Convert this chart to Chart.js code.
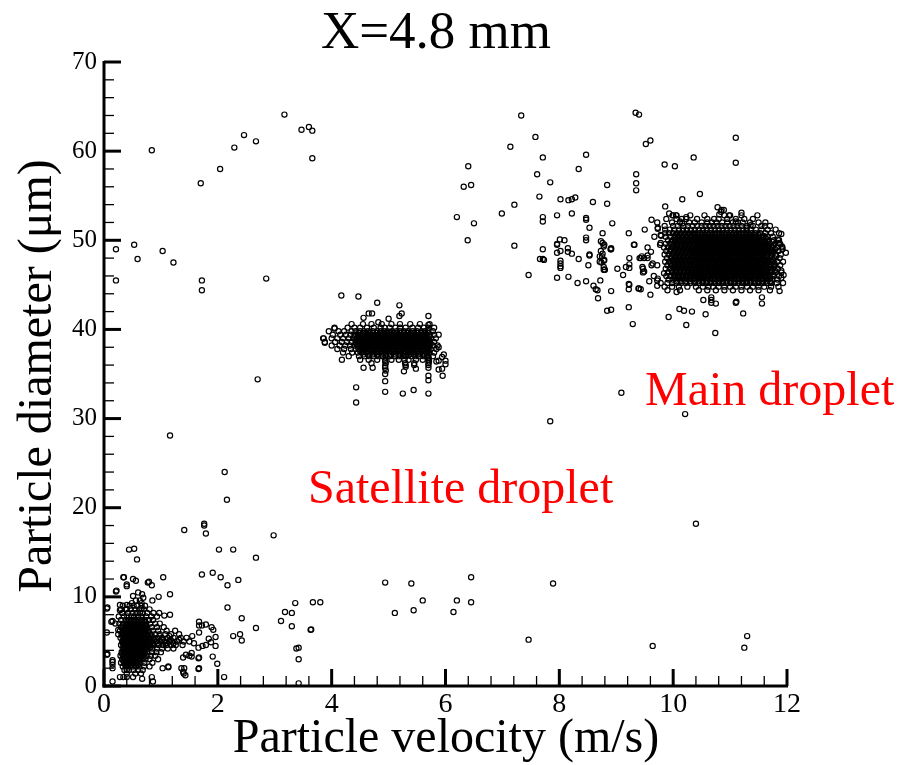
<!DOCTYPE html>
<html><head><meta charset="utf-8">
<script src="https://cdn.jsdelivr.net/npm/chart.js@4.4.1/dist/chart.umd.min.js"></script>
<style>html,body{margin:0;padding:0;background:#fff}#wrap{width:915px;height:765px}</style>
</head><body><div id="wrap"><canvas id="c" width="915" height="765"></canvas></div>
<script>
const titleText = "X=4.8 mm";
const xAxisTitle = "Particle velocity (m/s)";
const yAxisTitle = "Particle diameter (μm)";
const noteMain = "Main droplet";
const noteSatellite = "Satellite droplet";
const xTickValues = [0, 2, 4, 6, 8, 10, 12];
const yTickValues = [0, 10, 20, 30, 40, 50, 60, 70];

// scattered points (velocity m/s, diameter µm)
const scatteredUpper = [
[0.84,60.1],[1.70,56.4],[2.04,58.0],[2.29,60.4],[2.46,61.8],[2.67,61.1],[3.17,64.1],[3.47,62.4],[3.60,62.7],[3.66,62.3],[3.66,59.2],
[0.21,49.0],[0.53,49.5],[0.59,47.9],[1.03,48.8],[1.22,47.5],[0.21,45.5],[1.72,45.5],[1.72,44.4],[2.85,45.7],
[2.70,34.4],[1.16,28.1],[2.12,24.0],[2.16,20.9],[1.41,17.5],[1.76,18.2],[1.76,18.0],[1.79,17.1],[0.44,15.3],[0.53,15.4],[0.58,14.2],
[2.02,15.3],[2.27,15.3],[2.67,14.4],[2.98,16.9],
[6.40,58.3],[6.32,56.0],[6.45,56.2],[6.20,52.6],[6.50,51.9],[6.39,50.0],
[10.40,18.2],[10.21,30.5],[7.84,29.7],[9.09,32.9]
];
const scatteredLower = [
[1.72,12.5],[1.91,12.7],[2.05,12.2],[2.17,11.3],[2.36,11.9],[2.17,8.8],[2.42,7.6],[2.67,6.5],[2.27,5.6],[2.39,5.8],[2.42,5.1],
[2.11,1.0],[1.99,2.5],[1.91,3.3],
[3.36,9.3],[3.67,9.4],[3.80,9.4],[3.18,8.3],[3.30,8.2],[3.11,7.3],[3.30,6.7],[3.63,6.3],[3.64,6.35],[3.38,4.2],[3.42,4.3],[3.42,3.0],[3.42,0.3],
[4.94,11.6],[5.40,11.5],[5.11,8.2],[5.44,8.5],[5.60,9.6],[6.45,12.2],[6.20,9.6],[6.45,9.4],[6.14,8.3],[7.89,11.5],[7.46,5.2],
[9.64,4.5],[11.30,5.6],[11.25,4.3]
];
const lowFringe = [
[0.05,8.7],[0.06,8.8],[0.15,7.3],[0.13,7.2],[0.20,7.0],[0.25,6.3],[0.25,5.8],[0.05,6.0],[0.05,3.5],[0.06,3.6],[0.15,2.9],[0.15,2.7],[0.15,2.4],[0.15,2.0],
[0.15,0.5],[0.28,1.0],[0.34,1.0],[0.40,1.0],[0.51,1.0],[0.67,0.8],[0.86,0.5],[0.84,1.0],[0.40,2.3],[0.40,1.8],
[0.34,12.2],[0.35,12.2],[0.40,11.4],[0.40,11.2],[0.51,12.0],[0.56,11.8],[0.77,11.6],[0.79,11.7],[0.84,11.3],[1.04,12.2],[0.21,10.6],[0.22,10.7],
[0.51,10.1],[0.60,10.5],[0.67,10.3],[0.69,9.9],[0.63,9.6],[0.96,10.0],[1.16,10.3],[0.85,9.6],[0.56,9.6],[0.49,9.3],[0.28,9.1],[0.28,8.5],
[0.40,9.1],[0.40,8.6],[0.66,9.3],[0.66,8.7],[1.16,8.0],[0.97,8.2],[0.87,8.2],[0.76,8.2],[1.06,7.9],[0.93,7.8],
[1.67,6.0],[1.67,6.8],[1.67,7.2],[1.72,6.8],[1.66,4.3],[1.67,3.2],[1.66,3.1],[1.67,2.0],[1.66,1.9],[1.39,3.2],[1.44,3.5],[1.54,3.3],[1.54,3.7],[1.50,3.4],
[1.36,2.0],[1.41,2.0],[1.39,1.6],[1.40,1.4],[1.43,1.2],[1.13,2.2],[1.13,2.1],[1.03,2.0],
[1.79,6.9],[1.89,6.6],[1.92,6.3],[1.84,5.3],[1.73,4.5],[1.79,4.6],[1.88,4.9],[1.96,5.5],[1.96,4.5],[1.55,5.6],[1.58,4.8]
];
// dense low-speed cluster, rows: [diameter, velocities]
const lowRows = [
[9.0,[0.33,0.45,0.52,0.58,0.66,0.72]],
[8.6,[0.30,0.38,0.47,0.55,0.62,0.70,0.80]],
[8.2,[0.32,0.42,0.50,0.57,0.63,0.68]],
[7.8,[0.26,0.35,0.41,0.48,0.53,0.60,0.66,0.74,0.83]],
[7.4,[0.30,0.38,0.44,0.50,0.55,0.61,0.67,0.72,0.79,0.86]],
[7.2,[0.41,0.47,0.53,0.59,0.65,0.71]],
[7.0,[0.27,0.34,0.40,0.45,0.51,0.56,0.62,0.68,0.74,0.81,0.90,0.98]],
[6.8,[0.33,0.39,0.44,0.50,0.55,0.61,0.67,0.73]],
[6.6,[0.30,0.36,0.42,0.47,0.53,0.58,0.64,0.70,0.76,0.84,0.93,1.05]],
[6.4,[0.36,0.42,0.47,0.53,0.58,0.63,0.69,0.75]],
[6.2,[0.28,0.33,0.39,0.44,0.50,0.55,0.60,0.66,0.72,0.78,0.86,0.95,1.10,1.25]],
[6.0,[0.34,0.39,0.44,0.50,0.55,0.61,0.66,0.72,0.79]],
[5.8,[0.31,0.36,0.41,0.47,0.52,0.58,0.63,0.69,0.75,0.82,0.90,0.98,1.08,1.18,1.32]],
[5.6,[0.32,0.38,0.43,0.49,0.54,0.59,0.65,0.70,0.77,0.84,0.98,1.15]],
[5.4,[0.29,0.35,0.40,0.46,0.51,0.56,0.62,0.67,0.73,0.80,0.87,0.94,1.02,1.12,1.22,1.35,1.45]],
[5.2,[0.35,0.40,0.46,0.51,0.57,0.62,0.68,0.74,0.80,0.88,1.02,1.17,1.32]],
[5.0,[0.32,0.37,0.43,0.48,0.54,0.59,0.65,0.70,0.77,0.84,0.91,0.99,1.06,1.14,1.20,1.28,1.40,1.50]],
[4.8,[0.33,0.38,0.44,0.49,0.55,0.60,0.66,0.71,0.78,0.86,0.94,1.08,1.22]],
[4.6,[0.30,0.35,0.41,0.46,0.52,0.57,0.63,0.68,0.74,0.81,0.88,0.96,1.04,1.10,1.18,1.26,1.38]],
[4.4,[0.36,0.41,0.47,0.52,0.58,0.63,0.69,0.75,0.82]],
[4.2,[0.33,0.38,0.44,0.49,0.55,0.60,0.66,0.71,0.78,0.85,0.93,1.02,1.12,1.22]],
[4.0,[0.34,0.39,0.45,0.50,0.56,0.61,0.67,0.73]],
[3.8,[0.31,0.36,0.42,0.47,0.53,0.58,0.64,0.70,0.76,0.84,0.92,1.00]],
[3.6,[0.32,0.37,0.43,0.48,0.54,0.59,0.65,0.71]],
[3.4,[0.29,0.34,0.40,0.45,0.51,0.56,0.62,0.68,0.75,0.82,0.90]],
[3.2,[0.35,0.41,0.46,0.52,0.57,0.63,0.69]],
[3.0,[0.32,0.38,0.43,0.49,0.54,0.60,0.66,0.73,0.80,0.95]],
[2.8,[0.34,0.39,0.45,0.50,0.56,0.62]],
[2.6,[0.30,0.36,0.41,0.47,0.52,0.58,0.64,0.71,0.85]],
[2.4,[0.37,0.43,0.48,0.54,0.60]],
[2.2,[0.33,0.39,0.45,0.50,0.56,0.62,0.70,0.80]],
[1.8,[0.36,0.44,0.52,0.60,0.68]],
[1.4,[0.40,0.55,0.65]]
];
const satelliteFringe = [
[4.17,43.8],[4.47,43.7],[4.80,43.0],[5.19,42.7],[5.23,41.8],[5.19,41.5],[5.70,41.5],[5.70,40.5],[4.65,41.8],[4.71,41.8],[4.56,41.3],[5.00,41.2],[4.82,40.8],
[3.85,39.0],[3.88,38.5],[4.05,40.1],[4.18,36.6],[4.56,35.7],[4.72,35.7],[4.94,35.7],[4.94,35.0],[4.94,34.2],[4.94,33.0],[4.43,33.5],[4.43,31.8],
[5.25,32.8],[5.44,33.2],[5.27,35.3],[5.70,34.8],[5.70,34.3],[5.70,32.8],[5.48,35.6],[5.88,38.0],[5.84,36.4],[5.88,36.5],[5.94,36.9],[6.00,36.1],
[5.94,35.6],[5.88,35.5],[5.95,34.8],[6.00,36.5],[5.97,37.2],
[4.94,36.4],[4.94,35.9],[4.95,35.4],[5.70,36.0],[5.70,35.7],[5.71,36.4],[5.70,36.8],[5.30,36.0],[5.30,35.8],[5.45,36.0]
];
const satelliteRows = [
[40.6,[4.35,4.55,4.70,4.88,5.05,5.20,5.38,5.55,5.72]],
[40.2,[4.05,4.28,4.40,4.50,4.62,4.74,4.86,4.93,5.02,5.12,5.20,5.30,5.42,5.52,5.62,5.70,5.80]],
[39.8,[3.95,4.12,4.22,4.35,4.42,4.50,4.57,4.64,4.72,4.80,4.86,4.92,4.98,5.06,5.14,5.20,5.27,5.34,5.42,5.50,5.58,5.64,5.70,5.78]],
[39.6,[4.47,4.55,4.61,4.67,4.73,4.79,4.85,4.91,4.96,5.03,5.09,5.15,5.21,5.27,5.33,5.39,5.45,5.51,5.57,5.63,5.69]],
[39.4,[4.02,4.15,4.25,4.33,4.40,4.46,4.52,4.58,4.64,4.70,4.76,4.82,4.88,4.94,5.00,5.06,5.12,5.18,5.24,5.30,5.36,5.42,5.48,5.54,5.60,5.66,5.72,5.80,5.88]],
[39.2,[4.41,4.47,4.53,4.59,4.65,4.71,4.77,4.83,4.89,4.95,5.00,5.06,5.12,5.18,5.24,5.30,5.36,5.42,5.48,5.54,5.60,5.66,5.72]],
[39.0,[3.86,4.00,4.10,4.20,4.30,4.38,4.44,4.50,4.56,4.62,4.68,4.74,4.80,4.86,4.92,4.97,5.03,5.09,5.15,5.21,5.27,5.33,5.39,5.45,5.51,5.57,5.63,5.69,5.75,5.83]],
[38.8,[4.45,4.51,4.57,4.63,4.69,4.75,4.81,4.87,4.93,4.98,5.04,5.10,5.16,5.22,5.28,5.34,5.40,5.46,5.52,5.58,5.64,5.70]],
[38.6,[3.88,4.06,4.18,4.27,4.35,4.42,4.48,4.54,4.60,4.66,4.72,4.78,4.84,4.90,4.95,5.01,5.07,5.13,5.19,5.25,5.31,5.37,5.43,5.49,5.55,5.61,5.67,5.72,5.80]],
[38.4,[4.43,4.49,4.55,4.61,4.67,4.73,4.79,4.85,4.91,4.96,5.02,5.08,5.14,5.20,5.26,5.32,5.38,5.44,5.50,5.56,5.62,5.68,5.74]],
[38.2,[4.00,4.14,4.24,4.32,4.40,4.46,4.52,4.58,4.64,4.70,4.76,4.82,4.88,4.94,4.99,5.05,5.11,5.17,5.23,5.29,5.35,5.41,5.47,5.53,5.59,5.65,5.71,5.78,5.86]],
[38.0,[4.46,4.52,4.58,4.64,4.70,4.76,4.82,4.88,4.94,4.99,5.05,5.11,5.17,5.23,5.29,5.35,5.41,5.47,5.53,5.59,5.65,5.71]],
[37.8,[4.10,4.22,4.34,4.42,4.49,4.55,4.61,4.67,4.73,4.79,4.85,4.91,4.96,5.02,5.08,5.14,5.20,5.26,5.32,5.38,5.44,5.50,5.56,5.62,5.68,5.74,5.84]],
[37.6,[4.50,4.57,4.63,4.69,4.75,4.81,4.87,4.93,4.98,5.04,5.10,5.16,5.22,5.28,5.34,5.40,5.46,5.52,5.58,5.64,5.70]],
[37.4,[4.20,4.36,4.46,4.53,4.60,4.66,4.72,4.78,4.84,4.90,4.95,5.01,5.07,5.13,5.19,5.25,5.31,5.37,5.43,5.49,5.55,5.61,5.67,5.72,5.80]],
[37.2,[4.56,4.64,4.72,4.80,4.88,4.95,5.04,5.12,5.20,5.28,5.36,5.44,5.52,5.60,5.68]],
[37.0,[4.30,4.48,4.58,4.66,4.74,4.82,4.90,4.95,5.02,5.10,5.18,5.25,5.31,5.40,5.47,5.55,5.62,5.70,5.78]],
[36.6,[4.50,4.65,4.80,4.94,5.05,5.18,5.28,5.35,5.48,5.60,5.70]],
[36.2,[4.70,4.95,5.29,5.45,5.70]]
];
const mainFringe = [
[7.33,64.0],[9.34,64.3],[9.40,64.1],[7.58,61.6],[7.14,60.5],[7.71,59.3],[8.47,59.6],[8.34,58.0],[7.61,57.4],[7.84,56.5],[11.10,61.5],[11.10,58.7],
[9.52,60.8],[9.60,61.2],[10.36,59.3],[9.85,58.5],[10.03,58.3],[9.35,57.4],[9.35,56.4],[9.35,55.6],[8.84,56.2],[8.84,54.1],[7.65,54.9],[7.21,54.0],
[6.99,53.0],[8.02,54.6],[8.16,54.5],[8.22,54.6],[8.28,54.8],[8.59,54.3],[7.71,52.6],[7.71,52.1],[7.96,52.8],[8.22,53.0],[8.47,52.5],[8.47,52.3],
[8.93,51.9],[8.53,51.4],[8.76,50.8],[9.22,50.8],[8.01,50.1],[8.09,50.0],[8.47,50.3],[8.47,50.0],[8.73,49.9],[7.21,49.4],[7.71,49.0],[7.96,49.6],
[7.96,49.5],[8.15,49.1],[8.15,48.7],[8.22,48.5],[8.02,48.8],[7.96,48.6],[8.79,49.5],[8.91,49.0],[8.76,48.5],[8.78,49.3],[8.73,48.8],[8.75,48.2],
[8.78,47.7],[8.74,47.5],[8.90,49.0],[9.31,49.5],[8.53,48.4],[8.53,48.3],[7.66,47.9],[7.71,47.9],[7.73,47.8],[8.02,47.7],[8.02,47.4],[8.02,47.1],
[8.02,46.9],[8.34,47.9],[8.71,48.2],[8.71,47.6],[8.78,47.0],[8.78,46.7],[8.80,46.7],[8.51,47.2],[9.02,46.8],[9.12,46.1],[9.17,47.0],[9.23,47.3],
[9.23,48.0],[9.41,48.0],[9.45,48.2],[9.49,48.0],[9.55,48.3],[9.55,48.0],[7.46,46.1],[7.96,45.8],[8.16,45.9],[8.32,45.2],[8.47,45.4],[8.72,45.5],
[8.60,44.9],[8.64,44.5],[8.67,44.4],[8.68,43.5],[8.91,44.3],[8.84,42.1],[9.22,45.1],[9.22,44.5],[9.39,44.6],[9.22,42.5],[9.29,40.6],[9.43,44.5],
[9.47,46.8],[9.47,46.4],[9.60,43.9],[9.67,50.4],[9.73,51.4],[9.79,50.5],[9.77,49.5],[9.93,53.0],[9.99,52.8],[10.05,52.8],[10.06,52.4],[10.12,52.1],
[10.16,51.9],[10.23,52.6],[9.72,47.2],[9.72,45.5],[9.72,44.9],[9.92,41.4],[10.06,44.2],[10.11,42.3],[10.19,42.1],[10.33,42.0],[10.23,40.5],
[10.57,41.7],[10.53,43.3],[10.67,43.6],[10.67,43.3],[10.67,43.0],[10.75,42.9],[10.74,39.6],[11.10,43.0],[11.11,43.1],[11.23,41.8],[11.56,42.9],
[11.56,43.6],[11.87,44.3],[11.93,45.2],[11.90,45.8],[11.90,46.6],[11.94,46.1],[11.98,48.6],[11.91,49.3],[11.90,50.7],[11.84,50.1],[11.92,49.0],
[11.86,49.7],[11.61,51.6],[11.59,50.5],[11.20,53.1],[11.10,52.1],[10.98,52.8],[10.89,53.4],[10.78,53.7],[10.85,53.4],[10.81,52.9],[10.84,53.2],
[11.36,51.7],[11.29,51.4],[10.47,55.2],[10.16,54.6],[9.86,53.8],[9.62,52.3],[9.50,51.2],[9.55,49.2],[9.62,47.2],[9.66,46.0],[9.58,45.4],
[8.76,49.7],[8.79,47.8],[8.79,46.7],[8.91,49.1],[9.32,49.5],[9.23,46.9],[9.23,45.0],[9.43,48.0],[9.40,44.6],[9.46,47.0],[9.49,46.5],[9.61,48.7],
[9.64,47.4],[9.73,51.3],[9.78,50.6],[9.78,49.7],[9.73,45.7],[9.78,45.2],[9.84,46.3],[8.91,42.2]
];
const mainRows = [
[52.8,[10.00,10.06,10.30,10.55,10.90,11.00,11.20,11.48]],
[52.4,[9.88,10.15,10.23,10.42,10.60,10.72,10.80,10.95,11.10,11.25,11.40]],
[52.0,[9.72,9.98,10.12,10.28,10.38,10.50,10.60,10.68,10.76,10.86,10.95,11.05,11.14,11.22,11.35,11.50,11.62]],
[51.6,[9.85,10.00,10.08,10.18,10.26,10.34,10.42,10.50,10.57,10.64,10.71,10.78,10.85,10.92,10.99,11.06,11.13,11.20,11.30,11.40,11.55,11.70]],
[51.2,[9.86,9.94,10.02,10.10,10.17,10.24,10.31,10.38,10.45,10.52,10.59,10.66,10.73,10.80,10.87,10.94,11.01,11.08,11.15,11.22,11.29,11.37,11.45,11.55,11.66,11.80]],
[50.8,[9.86,9.93,10.00,10.07,10.14,10.21,10.28,10.35,10.41,10.47,10.53,10.59,10.65,10.71,10.77,10.83,10.89,10.95,11.01,11.07,11.13,11.19,11.25,11.31,11.38,11.45,11.53,11.62,11.72,11.86]],
[50.6,[10.04,10.11,10.18,10.25,10.32,10.38,10.44,10.50,10.56,10.62,10.68,10.74,10.80,10.86,10.92,10.98,11.04,11.10,11.16,11.22,11.28,11.35,11.42,11.50]],
[50.4,[9.87,9.95,10.03,10.10,10.17,10.24,10.31,10.37,10.43,10.49,10.55,10.61,10.67,10.73,10.79,10.85,10.91,10.97,11.03,11.09,11.15,11.21,11.27,11.33,11.39,11.45,11.51,11.58,11.66,11.75]],
[50.2,[10.02,10.09,10.16,10.23,10.30,10.36,10.42,10.48,10.54,10.60,10.66,10.72,10.78,10.84,10.90,10.96,11.02,11.08,11.14,11.20,11.26,11.32,11.38,11.44,11.50,11.56,11.63]],
[50.0,[9.91,9.99,10.06,10.13,10.20,10.27,10.34,10.40,10.46,10.52,10.58,10.64,10.70,10.76,10.82,10.88,10.94,11.00,11.06,11.12,11.18,11.24,11.30,11.36,11.42,11.48,11.54,11.61,11.68,11.77,11.86]],
[49.8,[9.97,10.04,10.11,10.18,10.25,10.33,10.40,10.46,10.52,10.58,10.64,10.70,10.76,10.82,10.88,10.94,11.00,11.06,11.12,11.18,11.24,11.30,11.36,11.42,11.48,11.54,11.60,11.67,11.74]],
[49.6,[9.87,9.94,10.01,10.08,10.16,10.23,10.30,10.37,10.43,10.49,10.55,10.61,10.67,10.73,10.79,10.85,10.91,10.97,11.03,11.09,11.15,11.21,11.27,11.33,11.39,11.45,11.51,11.57,11.63,11.70,11.79,11.88]],
[49.4,[10.00,10.07,10.14,10.21,10.28,10.35,10.41,10.47,10.53,10.59,10.65,10.71,10.77,10.83,10.89,10.95,11.01,11.07,11.13,11.19,11.25,11.31,11.37,11.43,11.49,11.55,11.61,11.68,11.76]],
[49.2,[9.84,9.91,9.98,10.05,10.12,10.19,10.26,10.33,10.40,10.46,10.52,10.58,10.64,10.70,10.76,10.82,10.88,10.94,11.00,11.06,11.12,11.18,11.24,11.30,11.36,11.42,11.48,11.54,11.60,11.66,11.73,11.82,11.92]],
[49.0,[9.96,10.03,10.10,10.17,10.24,10.31,10.38,10.44,10.50,10.56,10.62,10.68,10.74,10.80,10.86,10.92,10.98,11.04,11.10,11.16,11.22,11.28,11.34,11.40,11.46,11.52,11.58,11.64,11.71,11.79]],
[48.8,[9.88,9.95,10.02,10.09,10.16,10.23,10.30,10.36,10.42,10.48,10.54,10.60,10.66,10.72,10.78,10.84,10.90,10.96,11.02,11.08,11.14,11.20,11.26,11.32,11.38,11.44,11.50,11.56,11.62,11.68,11.76,11.85]],
[48.6,[10.01,10.08,10.15,10.22,10.29,10.35,10.41,10.47,10.53,10.59,10.65,10.71,10.77,10.83,10.89,10.95,11.01,11.07,11.13,11.19,11.25,11.31,11.37,11.43,11.49,11.55,11.61,11.68,11.75]],
[48.4,[9.85,9.92,9.99,10.06,10.13,10.20,10.27,10.33,10.39,10.45,10.51,10.57,10.63,10.69,10.75,10.81,10.87,10.93,10.99,11.05,11.11,11.17,11.23,11.29,11.35,11.41,11.47,11.53,11.59,11.65,11.72,11.80,11.89]],
[48.2,[9.97,10.04,10.11,10.18,10.25,10.32,10.38,10.44,10.50,10.56,10.62,10.68,10.74,10.80,10.86,10.92,10.98,11.04,11.10,11.16,11.22,11.28,11.34,11.40,11.46,11.52,11.58,11.64,11.72,11.81]],
[48.0,[9.89,9.96,10.03,10.10,10.17,10.24,10.31,10.37,10.43,10.49,10.55,10.61,10.67,10.73,10.79,10.85,10.91,10.97,11.03,11.09,11.15,11.21,11.27,11.33,11.39,11.45,11.51,11.57,11.63,11.70,11.78,11.87]],
[47.8,[10.00,10.07,10.14,10.21,10.28,10.35,10.41,10.47,10.53,10.59,10.65,10.71,10.77,10.83,10.89,10.95,11.01,11.07,11.13,11.19,11.25,11.31,11.37,11.43,11.49,11.55,11.61,11.67,11.75]],
[47.6,[9.86,9.93,10.00,10.07,10.14,10.21,10.28,10.34,10.40,10.46,10.52,10.58,10.64,10.70,10.76,10.82,10.88,10.94,11.00,11.06,11.12,11.18,11.24,11.30,11.36,11.42,11.48,11.54,11.60,11.66,11.74,11.83,11.93]],
[47.4,[9.96,10.03,10.10,10.17,10.24,10.31,10.37,10.43,10.49,10.55,10.61,10.67,10.73,10.79,10.85,10.91,10.97,11.03,11.09,11.15,11.21,11.27,11.33,11.39,11.45,11.51,11.57,11.63,11.70,11.78]],
[47.2,[9.90,9.97,10.04,10.11,10.18,10.25,10.32,10.38,10.44,10.50,10.56,10.62,10.68,10.74,10.80,10.86,10.92,10.98,11.04,11.10,11.16,11.22,11.28,11.34,11.40,11.46,11.52,11.58,11.64,11.71,11.79,11.88]],
[47.0,[10.01,10.08,10.15,10.22,10.29,10.36,10.42,10.48,10.54,10.60,10.66,10.72,10.78,10.84,10.90,10.96,11.02,11.08,11.14,11.20,11.26,11.32,11.38,11.44,11.50,11.56,11.62,11.69,11.77]],
[46.8,[9.87,9.94,10.01,10.08,10.15,10.22,10.29,10.35,10.41,10.47,10.53,10.59,10.65,10.71,10.77,10.83,10.89,10.95,11.01,11.07,11.13,11.19,11.25,11.31,11.37,11.43,11.49,11.55,11.61,11.67,11.75,11.84]],
[46.6,[9.98,10.05,10.12,10.19,10.26,10.32,10.38,10.44,10.50,10.56,10.62,10.68,10.74,10.80,10.86,10.92,10.98,11.04,11.10,11.16,11.22,11.28,11.34,11.40,11.46,11.52,11.58,11.64,11.71,11.79]],
[46.4,[9.91,9.98,10.05,10.12,10.19,10.26,10.33,10.39,10.45,10.51,10.57,10.63,10.69,10.75,10.81,10.87,10.93,10.99,11.05,11.11,11.17,11.23,11.29,11.35,11.41,11.47,11.53,11.59,11.65,11.72,11.80,11.90]],
[46.2,[10.02,10.09,10.16,10.23,10.30,10.36,10.42,10.48,10.54,10.60,10.66,10.72,10.78,10.84,10.90,10.96,11.02,11.08,11.14,11.20,11.26,11.32,11.38,11.44,11.50,11.56,11.62,11.68,11.76]],
[46.0,[9.88,9.95,10.02,10.09,10.16,10.23,10.30,10.36,10.42,10.48,10.54,10.60,10.66,10.72,10.78,10.84,10.90,10.96,11.02,11.08,11.14,11.20,11.26,11.32,11.38,11.44,11.50,11.56,11.62,11.69,11.77,11.86]],
[45.8,[10.03,10.10,10.17,10.24,10.31,10.37,10.43,10.49,10.55,10.61,10.67,10.73,10.79,10.85,10.91,10.97,11.03,11.09,11.15,11.21,11.27,11.33,11.39,11.45,11.51,11.57,11.63,11.70]],
[45.6,[9.92,9.99,10.06,10.13,10.20,10.27,10.34,10.40,10.46,10.52,10.58,10.64,10.70,10.76,10.82,10.88,10.94,11.00,11.06,11.12,11.18,11.24,11.30,11.36,11.42,11.48,11.54,11.60,11.66,11.74,11.83]],
[45.4,[10.06,10.14,10.22,10.30,10.38,10.45,10.52,10.59,10.66,10.73,10.80,10.87,10.94,11.01,11.08,11.15,11.22,11.29,11.36,11.43,11.50,11.57,11.64,11.71]],
[45.2,[9.90,9.98,10.06,10.14,10.22,10.30,10.38,10.45,10.52,10.59,10.66,10.73,10.80,10.87,10.94,11.01,11.08,11.15,11.22,11.29,11.36,11.43,11.50,11.57,11.64,11.72,11.82]],
[44.8,[9.85,9.98,10.10,10.25,10.40,10.52,10.62,10.70,10.80,10.90,11.00,11.10,11.20,11.30,11.40,11.50,11.60,11.72,11.85]],
[44.4,[9.90,10.12,10.45,10.60,10.75,10.90,11.05,11.20,11.35,11.50,11.70]]
];

function fromPairs(list){ return list.map(p => ({x:p[0], y:p[1]})); }
function fromRows(rows){ const out=[]; rows.forEach(r => r[1].forEach(v => out.push({x:v, y:r[0]}))); return out; }

const allPoints = [].concat(
  fromPairs(scatteredUpper), fromPairs(scatteredLower), fromPairs(lowFringe), fromRows(lowRows),
  fromPairs(satelliteFringe), fromRows(satelliteRows), fromPairs(mainFringe), fromRows(mainRows)
);

const SERIF = '"Liberation Serif","Times New Roman",serif';

const decoPlugin = {
  id: 'deco',
  afterDraw(chart){
    const {ctx, chartArea:a, scales:{x, y}} = chart;
    ctx.save();
    ctx.strokeStyle = '#000';
    ctx.lineCap = 'butt';
    ctx.lineWidth = 3;
    ctx.beginPath(); ctx.moveTo(a.left, a.top - 1); ctx.lineTo(a.left, a.bottom + 1.5); ctx.stroke();
    ctx.beginPath(); ctx.moveTo(a.left - 1.5, a.bottom); ctx.lineTo(a.right + 1, a.bottom); ctx.stroke();
    for (let i = 0; i < xTickValues.length; i++){
      const v = xTickValues[i];
      const px = x.getPixelForValue(v);
      ctx.lineWidth = 3;
      ctx.beginPath(); ctx.moveTo(px, a.bottom); ctx.lineTo(px, a.bottom - 17); ctx.stroke();
      if (i < xTickValues.length - 1){
        const step = (xTickValues[i+1] - v) / 5;
        ctx.lineWidth = 1.3;
        for (let k = 1; k < 5; k++){
          const mx = x.getPixelForValue(v + k*step);
          ctx.beginPath(); ctx.moveTo(mx, a.bottom); ctx.lineTo(mx, a.bottom - 10); ctx.stroke();
        }
      }
    }
    for (let i = 0; i < yTickValues.length; i++){
      const v = yTickValues[i];
      const py = y.getPixelForValue(v);
      ctx.lineWidth = 3;
      ctx.beginPath(); ctx.moveTo(a.left, py); ctx.lineTo(a.left + 17, py); ctx.stroke();
      if (i < yTickValues.length - 1){
        const step = (yTickValues[i+1] - v) / 5;
        ctx.lineWidth = 1.3;
        for (let k = 1; k < 5; k++){
          const my = y.getPixelForValue(v + k*step);
          ctx.beginPath(); ctx.moveTo(a.left, my); ctx.lineTo(a.left + 10, my); ctx.stroke();
        }
      }
    }
    ctx.fillStyle = '#000';
    ctx.textAlign = 'center';
    ctx.textBaseline = 'alphabetic';
    ctx.font = '53px ' + SERIF;
    ctx.fillText(titleText, 436, 48);
    ctx.font = '48px ' + SERIF;
    ctx.fillText(xAxisTitle, 446, 752);
    ctx.save();
    ctx.translate(51, 376);
    ctx.rotate(-Math.PI/2);
    ctx.fillText(yAxisTitle, 0, 0);
    ctx.restore();
    ctx.fillStyle = '#ff0000';
    ctx.textAlign = 'left';
    ctx.fillText(noteMain, 645, 405);
    ctx.fillText(noteSatellite, 308, 503);
    ctx.restore();
  }
};

new Chart(document.getElementById('c'), {
  type: 'scatter',
  data: { datasets: [{
    data: allPoints,
    pointStyle: 'circle',
    pointRadius: 2.6,
    pointBorderWidth: 1.2,
    borderColor: '#000',
    backgroundColor: 'rgba(0,0,0,0)',
    pointBackgroundColor: 'rgba(0,0,0,0)',
    pointBorderColor: '#000',
    clip: false
  }]},
  options: {
    responsive: false,
    animation: false,
    devicePixelRatio: 1,
    layout: { padding: { top: 62, right: 128, left: 0, bottom: 0 } },
    plugins: { legend: { display: false }, tooltip: { enabled: false }, title: { display: false } },
    scales: {
      x: {
        type: 'linear', min: 0, max: 12,
        afterFit(s){ s.height = 79; },
        afterBuildTicks(s){ s.ticks = xTickValues.map(v => ({value: v})); },
        grid: { display: false, drawTicks: false },
        border: { display: false },
        ticks: { padding: 2, color: '#000', font: { family: SERIF, size: 28 }, maxRotation: 0, autoSkip: false }
      },
      y: {
        type: 'linear', min: 0, max: 70,
        afterFit(s){ s.width = 104; },
        afterBuildTicks(s){ s.ticks = yTickValues.map(v => ({value: v})); },
        grid: { display: false, drawTicks: false },
        border: { display: false },
        ticks: { padding: 7, color: '#000', font: { family: SERIF, size: 25 }, autoSkip: false }
      }
    }
  },
  plugins: [decoPlugin]
});
</script>
</body></html>
